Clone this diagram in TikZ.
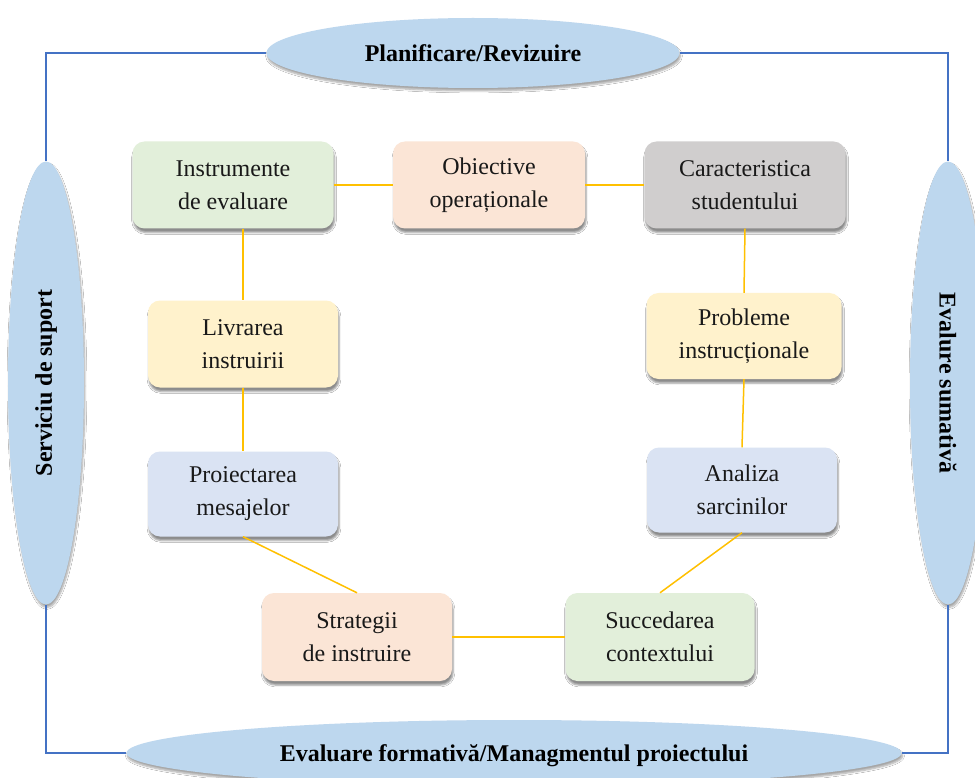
\documentclass[tikz,border=0pt]{standalone}
\usepackage{fontspec}
\setmainfont{Liberation Serif}
\usetikzlibrary{shapes.geometric,shadows.blur}
\definecolor{ellfill}{HTML}{BDD7EE}
\definecolor{frameblue}{HTML}{4472C4}
\definecolor{conn}{HTML}{FFC000}
\definecolor{bgreen}{HTML}{E2EFDA}
\definecolor{bpeach}{HTML}{FBE5D6}
\definecolor{bgray}{HTML}{D0CECE}
\definecolor{byellow}{HTML}{FFF2CC}
\definecolor{bblue}{HTML}{DAE3F3}
\tikzset{
  ell/.style={ellipse, fill=ellfill, inner sep=0pt,
    blur shadow={shadow xshift=1pt, shadow yshift=-3pt, shadow opacity=35, shadow blur steps=6},
    font=\fontsize{24}{28}\selectfont\bfseries},
  eltxt/.style={font=\fontsize{24}{28}\selectfont\bfseries},
  box/.style={rectangle, rounded corners=12pt, minimum width=190pt, minimum height=87pt,
    align=center, inner sep=0pt,
    blur shadow={shadow xshift=1pt, shadow yshift=-4pt, shadow opacity=45, shadow blur steps=4},
    font=\fontsize{24}{33}\selectfont, text=black!90},
  link/.style={draw=conn, line width=1.5pt},
  frame/.style={draw=frameblue, line width=1.5pt}
}
\begin{document}
\begin{tikzpicture}[x=1pt,y=-1pt]
\useasboundingbox[fill=white] (0,0) rectangle (975,778);
% ellipses
\node[ell, minimum width=413pt, minimum height=70pt] (top) at (473,53) {Planificare/Revizuire};
\node[ell, minimum width=76pt, minimum height=443pt] (left) at (46,383) {};
\node[ell, minimum width=76pt, minimum height=443pt] (right) at (948,383) {};
\node[ell, minimum width=775pt, minimum height=66pt] (bottom) at (514,753) {};
\node[eltxt, rotate=90] (lefttxt) at (left) {Serviciu de suport};
\node[eltxt, rotate=-90] (righttxt) at (right) {Evalure sumativă};
\node[eltxt, anchor=base] (bottomtxt) at (514,761) {Evaluare formativă/Managmentul proiectului};
% frame lines
\draw[frame] (top.west) -| (left.north);
\draw[frame] (top.east) -| (right.north);
\draw[frame] (bottom.west) -| (left.south);
\draw[frame] (bottom.east) -| (right.south);
% boxes
\node[box, fill=bgreen, minimum width=201pt] (instr) at (233,185) {Instrumente\\de evaluare};
\node[box, fill=bpeach, minimum width=192pt] (obiect) at (489,185) {Obiective\\operaționale};
\node[box, fill=bgray, minimum width=201pt] (caract) at (745,185) {Caracteristica\\studentului};
\node[box, fill=byellow] (livr) at (243,344) {Livrarea\\instruirii};
\node[box, fill=bblue, minimum height=85pt] (proiect) at (243,494) {Proiectarea\\mesajelor};
\node[box, fill=byellow, minimum width=195pt, minimum height=86pt] (probl) at (744,336) {Probleme\\instrucționale};
\node[box, fill=bblue, minimum height=85pt] (analiza) at (742,490) {Analiza\\sarcinilor};
\node[box, fill=bpeach, minimum height=88pt] (strat) at (357,637) {Strategii\\de instruire};
\node[box, fill=bgreen, minimum width=189pt, minimum height=88pt] (succ) at (660,637) {Succedarea\\contextului};
% connectors
\draw[link] (instr.south -| livr.north) -- (livr.north);
\draw[link] (instr.east) -- (obiect.west);
\draw[link] (obiect.east) -- (caract.west);
\draw[link] (livr.south) -- (proiect.north);
\draw[link] (proiect.south) -- (strat.north);
\draw[link] (strat.east) -- (succ.west);
\draw[link] (succ.north) -- (analiza.south);
\draw[link] (analiza.north) -- (probl.south);
\draw[link] (probl.north) -- (caract.south);
\end{tikzpicture}
\end{document}
